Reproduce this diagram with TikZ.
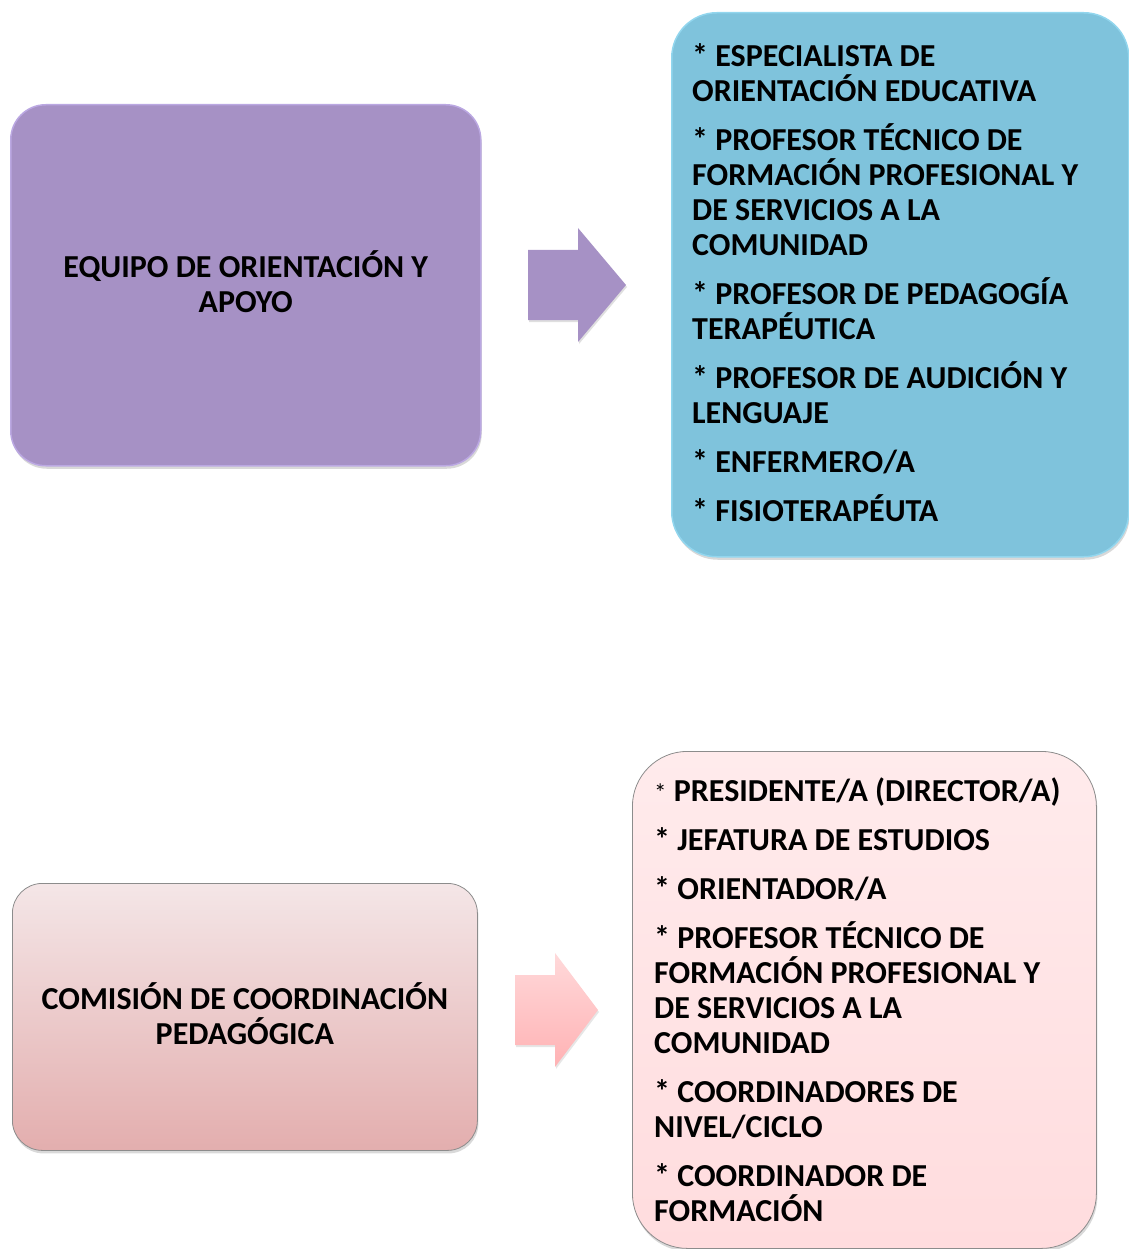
\documentclass[tikz,border=0pt]{standalone}
\usepackage{fontspec}
\setmainfont{Carlito}
\usetikzlibrary{positioning,shadows}

\definecolor{lila}{HTML}{A691C5}
\definecolor{lilaBorde}{HTML}{BBA8E2}
\definecolor{celeste}{HTML}{7FC3DC}
\definecolor{celesteBorde}{HTML}{92D6EE}
\definecolor{rosaArriba}{HTML}{F4E6E7}
\definecolor{rosaAbajo}{HTML}{E3AEAE}
\definecolor{rosaClaroArriba}{HTML}{FFEBEC}
\definecolor{rosaClaroAbajo}{HTML}{FFDCDE}
\definecolor{flechaArriba}{HTML}{FFD9DA}
\definecolor{flechaAbajo}{HTML}{FFB2B4}
\definecolor{borde}{HTML}{8C8C8C}

\tikzset{
  caja/.style={rectangle, inner sep=0pt, anchor=north west,
    drop shadow={opacity=0.3, shadow xshift=1pt, shadow yshift=-3pt}},
  titulo/.style={font=\bfseries\fontsize{32}{35}\selectfont, inner sep=0pt, align=center, yshift=3.5pt},
  lista/.style={font=\bfseries\fontsize{32}{35}\selectfont, inner sep=0pt, align=left, anchor=base west},
}

% flecha gruesa: punto de cola, largo del cuerpo, largo de la punta
\newcommand{\flecha}[4]{%
  \path[#4] (#1) ++(0,-35) -- ++(#2,0) -- ++(0,-22) -- ++(#3,57)
    -- ++(-#3,57) -- ++(0,-22) -- ++(-#2,0) -- cycle;}

\begin{document}
\begin{tikzpicture}[x=1pt, y=-1pt]
  \useasboundingbox (0,0) rectangle (1128,1249);

  % primer grupo
  \node[caja, fill=lila, draw=lilaBorde, line width=1.5pt, rounded corners=35pt,
    minimum width=470pt, minimum height=361pt] (equipo) at (10,104) {};
  \node[titulo] (equipoTxt) at (equipo.center) {EQUIPO DE ORIENTACIÓN Y\\APOYO};

  \node[caja, fill=celeste, draw=celesteBorde, line width=1.5pt, rounded corners=45pt,
    minimum width=457pt, minimum height=544pt] (miembrosEq) at (671,12) {};
  % el ancla base es la de la ultima linea
  \node[lista] (miembrosEqTxt) at (692,521) {%
    * ESPECIALISTA DE\\ORIENTACIÓN EDUCATIVA\\[14pt]
    * PROFESOR TÉCNICO DE\\FORMACIÓN PROFESIONAL Y\\DE SERVICIOS A LA\\COMUNIDAD\\[14pt]
    * PROFESOR DE PEDAGOGÍA\\TERAPÉUTICA\\[14pt]
    * PROFESOR DE AUDICIÓN Y\\LENGUAJE\\[14pt]
    * ENFERMERO/A\\[14pt]
    * FISIOTERAPÉUTA};

  \coordinate (colaA) at (528,285);
  \flecha{colaA}{50}{48}{fill=lila, drop shadow={opacity=0.25, shadow xshift=1pt, shadow yshift=-2pt}}

  % segundo grupo
  \node[caja, top color=rosaArriba, bottom color=rosaAbajo, draw=borde, line width=0.8pt,
    rounded corners=30pt, minimum width=465pt, minimum height=267pt] (comision) at (12,883) {};
  \node[titulo] (comisionTxt) at (comision.center) {COMISIÓN DE COORDINACIÓN\\PEDAGÓGICA};

  \node[caja, top color=rosaClaroArriba, bottom color=rosaClaroAbajo, draw=borde, line width=0.8pt,
    rounded corners=55pt, minimum width=464pt, minimum height=497pt] (miembrosCom) at (632,751) {};
  \node[lista] (miembrosComTxt) at (654,1221) {%
    {\mdseries\fontsize{25}{35}\selectfont *} PRESIDENTE/A (DIRECTOR/A)\\[14pt]
    * JEFATURA DE ESTUDIOS\\[14pt]
    * ORIENTADOR/A\\[14pt]
    * PROFESOR TÉCNICO DE\\FORMACIÓN PROFESIONAL Y\\DE SERVICIOS A LA\\COMUNIDAD\\[14pt]
    * COORDINADORES DE\\NIVEL/CICLO\\[14pt]
    * COORDINADOR DE\\FORMACIÓN};

  \coordinate (colaB) at (515,1010);
  \flecha{colaB}{40}{43}{top color=flechaArriba, bottom color=flechaAbajo, drop shadow={opacity=0.2, shadow xshift=1pt, shadow yshift=-2pt}}
\end{tikzpicture}
\end{document}
